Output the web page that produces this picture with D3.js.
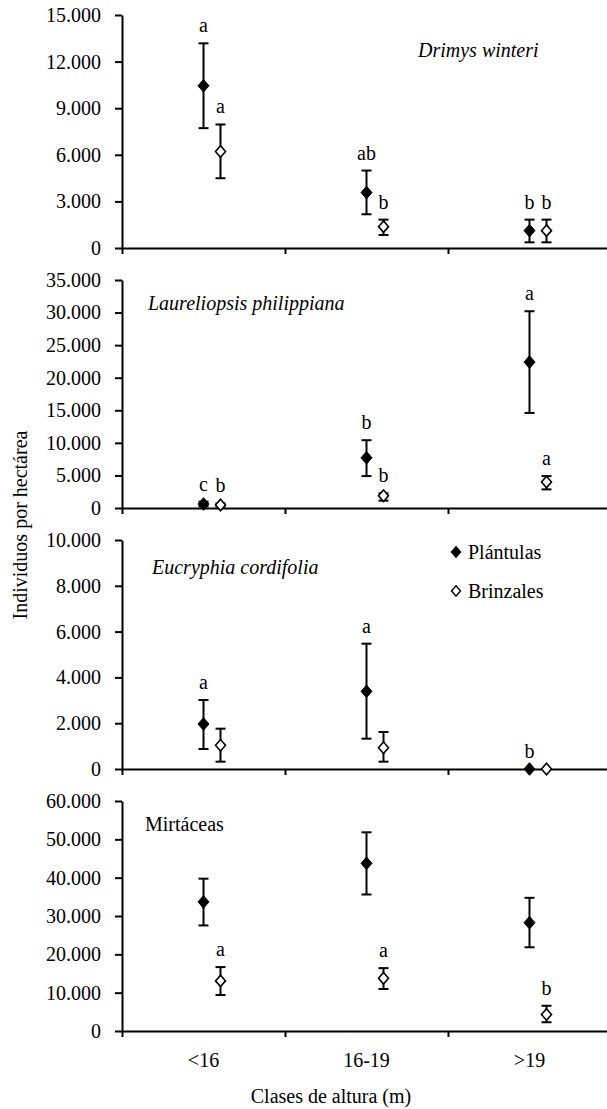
<!DOCTYPE html>
<html>
<meta charset="UTF-8">

<head>
  <script src="https://cdn.jsdelivr.net/npm/d3@7"></script>
  <style>
    body { margin: 0; background: white; }
  </style>
</head>

<body>
  <div id="viz">
    <svg style="width:607px;height:1109px;"></svg>
  </div>

  <script type="text/javascript">
    // data
    const categories = ["<16", "16-19", ">19"]
    const species = ["Drimys winteri", "Laureliopsis philippiana", "Eucryphia cordifolia", "Mirtáceas"]
    const italicTitle = [true, true, true, false]
    const yMax = [15000, 35000, 10000, 60000]
    const yStep = [3000, 5000, 2000, 10000]

    const plantulasMean = [[10445, 3568, 1118], [612, 7704, 22398], [1965, 3391, 0], [33680, 43740, 28250]]
    const plantulasHigh = [[13175, 4986, 1827], [980, 10408, 30204], [3013, 5473, 0], [39740, 51830, 34740]]
    const plantulasLow = [[7716, 2171, 365], [260, 4898, 14592], [873, 1325, 0], [27540, 35610, 21840]]
    const plantulasLetters = [["a", "ab", "b"], ["c", "b", "a"], ["a", "a", "b"], ["", "", ""]]

    const brinzalesMean = [[6211, 1375, 1118], [460, 1888, 3980], [1033, 932, 0], [13070, 13770, 4300]]
    const brinzalesHigh = [[7952, 1827, 1827], [700, 2250, 4898], [1761, 1616, 0], [16670, 16400, 6580]]
    const brinzalesLow = [[4492, 838, 365], [220, 1130, 2857], [320, 320, 0], [9390, 10960, 2280]]
    const brinzalesLetters = [["a", "b", "b"], ["b", "b", "a"], ["", "", ""], ["a", "a", "b"]]

    const seriesNames = ["Plántulas", "Brinzales"]

    // layout
    const panelTop = [15, 280, 540, 801]
    const panelBottom = [248, 508, 769, 1031]
    const titlePos = [[418, 42], [148, 30], [152, 34], [145, 30]]
    const axisLeftX = 122
    const axisRightX = 611
    const openOffset = 17
    const FONT = "Liberation Serif"

    const fmt = d3.formatLocale({ decimal: ",", thousands: ".", grouping: [3], currency: ["$", ""] }).format(",d")

    const diamond = {
      draw(ctx, size) {
        const w = size, h = size * 1.15
        ctx.moveTo(0, -h)
        ctx.lineTo(w, 0)
        ctx.lineTo(0, h)
        ctx.lineTo(-w, 0)
        ctx.closePath()
      }
    }

    const serif = sel => sel.style("font-family", FONT).style("font-size", "20px").style("fill", "black")

    const svg = d3.select("svg")

    const x = d3.scaleBand()
      .domain(categories)
      .range([axisLeftX, axisRightX])
      .padding(0)

    const xEdges = d3.scaleLinear()
      .domain([0, categories.length])
      .range([axisLeftX, axisRightX])

    species.forEach((name, i) => {
      const y = d3.scaleLinear()
        .domain([0, yMax[i]])
        .range([panelBottom[i], panelTop[i]])

      const g = svg.append("g").attr("class", "panel")

      // y axis
      const yAxis = g.append("g")
        .attr("transform", `translate(${axisLeftX},0)`)
        .call(d3.axisLeft(y)
          .tickValues(d3.range(0, yMax[i] + 1, yStep[i]))
          .tickSize(7)
          .tickSizeOuter(0)
          .tickPadding(14)
          .tickFormat(fmt))
      yAxis.selectAll("path, line").style("stroke", "black").style("stroke-width", "2px")
      yAxis.selectAll("text").call(serif)

      // x axis
      const xAxis = g.append("g")
        .attr("transform", `translate(0,${panelBottom[i]})`)
        .call(d3.axisBottom(xEdges)
          .tickValues(d3.range(0, categories.length + 1))
          .tickSize(6)
          .tickSizeOuter(0)
          .tickFormat(""))
      xAxis.selectAll("path, line").style("stroke", "black").style("stroke-width", "2px")

      // title
      g.append("text")
        .attr("x", titlePos[i][0])
        .attr("y", panelTop[i] + titlePos[i][1])
        .call(serif)
        .style("font-style", italicTitle[i] ? "italic" : "normal")
        .text(name)

      const rows = [
        { mean: plantulasMean[i], hi: plantulasHigh[i], lo: plantulasLow[i], letters: plantulasLetters[i], dx: 0, filled: true },
        { mean: brinzalesMean[i], hi: brinzalesHigh[i], lo: brinzalesLow[i], letters: brinzalesLetters[i], dx: openOffset, filled: false }
      ]

      rows.forEach(s => {
        const pts = categories.map((c, j) => ({
          cx: x(c) + x.bandwidth() / 2 + s.dx,
          mean: s.mean[j], hi: s.hi[j], lo: s.lo[j], letter: s.letters[j]
        }))

        const bars = g.append("g").selectAll("g")
          .data(pts.filter(d => d.hi > d.lo))
          .enter()
          .append("g")

        bars.append("line")
          .attr("x1", d => d.cx).attr("x2", d => d.cx)
          .attr("y1", d => y(d.hi)).attr("y2", d => y(d.lo))
          .style("stroke", "black").style("stroke-width", "2px")

        bars.selectAll("line.cap")
          .data(d => [{ cx: d.cx, v: d.hi }, { cx: d.cx, v: d.lo }])
          .enter()
          .append("line")
          .attr("class", "cap")
          .attr("x1", d => d.cx - 5).attr("x2", d => d.cx + 5)
          .attr("y1", d => y(d.v)).attr("y2", d => y(d.v))
          .style("stroke", "black").style("stroke-width", "2px")

        g.append("g").selectAll("path")
          .data(pts)
          .enter()
          .append("path")
          .attr("d", d3.symbol().type(diamond).size(s.filled ? 5.5 : 5))
          .attr("transform", d => `translate(${d.cx},${y(d.mean)})`)
          .style("fill", s.filled ? "black" : "white")
          .style("stroke", "black")
          .style("stroke-width", s.filled ? "1px" : "1.6px")

        g.append("g").selectAll("text")
          .data(pts.filter(d => d.letter))
          .enter()
          .append("text")
          .attr("x", d => d.cx)
          .attr("y", d => y(Math.max(d.hi, d.mean)) - 11)
          .style("text-anchor", "middle")
          .call(serif)
          .text(d => d.letter)
      })

      // legend lives in the third panel
      if (i === 2) {
        const leg = g.append("g")
          .selectAll("g")
          .data(seriesNames)
          .enter()
          .append("g")
          .attr("transform", (d, k) => `translate(456,${panelTop[i] + 12 + k * 39})`)
        leg.append("path")
          .attr("d", d3.symbol().type(diamond).size(4.5))
          .style("fill", (d, k) => k === 0 ? "black" : "white")
          .style("stroke", "black")
          .style("stroke-width", "1.4px")
        leg.append("text")
          .attr("x", 12)
          .attr("y", 7)
          .call(serif)
          .text(d => d)
      }

      // category labels on the bottom panel only
      if (i === species.length - 1) {
        g.append("g").selectAll("text")
          .data(categories)
          .enter()
          .append("text")
          .attr("x", d => x(d) + x.bandwidth() / 2)
          .attr("y", panelBottom[i] + 36)
          .style("text-anchor", "middle")
          .call(serif)
          .text(d => d)
      }
    })

    svg.append("text")
      .attr("x", 331)
      .attr("y", 1103)
      .style("text-anchor", "middle")
      .call(serif)
      .text("Clases de altura (m)")

    svg.append("text")
      .attr("transform", "translate(27,525) rotate(-90)")
      .style("text-anchor", "middle")
      .call(serif)
      .text("Individuos por hectárea")
  </script>
</body>

</html>
